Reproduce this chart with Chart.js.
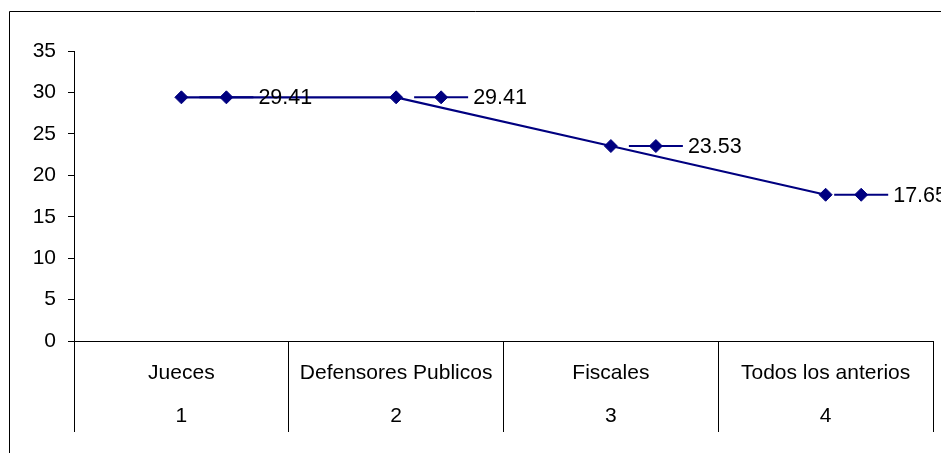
<!DOCTYPE html>
<html>
<head>
<meta charset="utf-8">
<script src="https://cdn.jsdelivr.net/npm/chart.js@4/dist/chart.umd.min.js"></script>
<style>
  html, body { margin: 0; padding: 0; background: #fff; overflow: hidden; }
  #wrap { position: relative; width: 941px; height: 453px; }
</style>
</head>
<body>
<div id="wrap"><canvas id="lineChart" width="941" height="453"></canvas></div>
<script>
// Two-level category axis: role name on top, index underneath.
const categories = ['Jueces', 'Defensores Publicos', 'Fiscales', 'Todos los anterios'];
const categoryIndex = ['1', '2', '3', '4'];
const percentages = [29.41, 29.41, 23.53, 17.65];

const NAVY = '#000080';
const FONT = "'Liberation Sans', Arial, sans-serif";

// Draws a diamond marker the same way the dataset points look.
function diamond(ctx, x, y, r) {
  ctx.beginPath();
  ctx.moveTo(x - r, y);
  ctx.lineTo(x, y - r);
  ctx.lineTo(x + r, y);
  ctx.lineTo(x, y + r);
  ctx.closePath();
  ctx.fill();
  ctx.stroke();
}

// Frame around the whole chart (only top/left fall inside the canvas).
const chartFrame = {
  id: 'chartFrame',
  beforeDraw(chart) {
    const ctx = chart.ctx;
    ctx.save();
    ctx.strokeStyle = '#000';
    ctx.lineWidth = 1;
    ctx.beginPath();
    ctx.moveTo(9.5, chart.height);
    ctx.lineTo(9.5, 11.5);
    ctx.lineTo(chart.width, 11.5);
    ctx.stroke();
    ctx.restore();
  }
};

// Value labels with a small legend key (line + diamond) in front of the number.
const keyedLabels = {
  id: 'keyedLabels',
  afterDatasetsDraw(chart) {
    const ctx = chart.ctx;
    const meta = chart.getDatasetMeta(0);
    const values = chart.data.datasets[0].data;
    ctx.save();
    ctx.font = '21.5px ' + FONT;
    ctx.textBaseline = 'middle';
    ctx.textAlign = 'left';
    meta.data.forEach((pt, i) => {
      const text = values[i].toFixed(2);
      const w = ctx.measureText(text).width;
      let x = pt.x;
      const limit = chart.width + 6;
      const shift = Math.max(0, x + 77 + w - limit);
      x -= shift;
      const y = pt.y;
      ctx.strokeStyle = NAVY;
      ctx.lineWidth = 2;
      ctx.beginPath();
      ctx.moveTo(x + 18, y);
      ctx.lineTo(x + 72, y);
      ctx.stroke();
      ctx.fillStyle = NAVY;
      ctx.lineWidth = 1;
      diamond(ctx, x + 45, y, 6.5);
      ctx.fillStyle = '#000';
      ctx.fillText(text, x + 77, y + 1);
    });
    ctx.restore();
  }
};

new Chart(document.getElementById('lineChart'), {
  type: 'line',
  data: {
    labels: categories.map((c, i) => [c, categoryIndex[i]]),
    datasets: [{
      data: percentages,
      borderColor: NAVY,
      backgroundColor: NAVY,
      borderWidth: 2.2,
      tension: 0,
      pointStyle: 'rectRot',
      pointRadius: 6.5,
      pointBorderWidth: 1,
      pointBackgroundColor: NAVY,
      pointBorderColor: NAVY,
    }],
  },
  options: {
    responsive: false,
    animation: false,
    events: [],
    layout: { padding: { top: 51, right: 8, left: 0, bottom: 0 } },
    plugins: { legend: { display: false }, tooltip: { enabled: false } },
    scales: {
      x: {
        type: 'category',
        offset: true,
        grid: {
          offset: true,
          drawOnChartArea: false,
          tickLength: 91,
          color: '#000',
          lineWidth: 1,
        },
        border: { color: '#000', width: 1 },
        ticks: {
          autoSkip: false,
          maxRotation: 0,
          color: '#000',
          padding: -80,
          font: { family: FONT, size: 21, lineHeight: '43px' },
        },
        afterFit(scale) { scale.height = 112; },
      },
      y: {
        min: 0,
        max: 35,
        ticks: {
          stepSize: 5,
          color: '#000',
          padding: 12,
          font: { family: FONT, size: 21 },
        },
        grid: {
          drawOnChartArea: false,
          tickLength: 6,
          color: '#000',
        },
        border: { color: '#000', width: 1 },
        afterFit(scale) { scale.width = 74; },
      },
    },
  },
  plugins: [chartFrame, keyedLabels],
});
</script>
</body>
</html>
